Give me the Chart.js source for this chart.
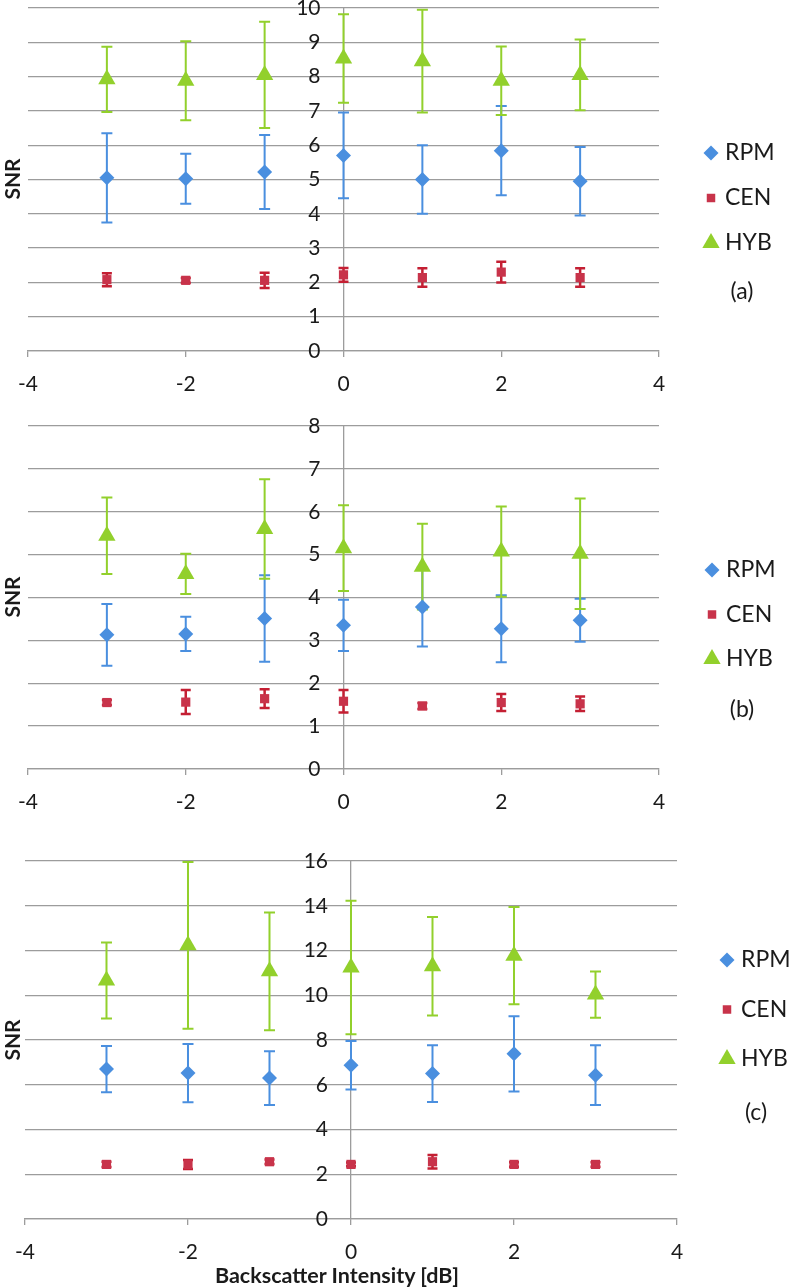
<!DOCTYPE html>
<html>
<head>
<meta charset="utf-8">
<title>SNR vs Backscatter Intensity</title>
<script src="https://cdn.jsdelivr.net/npm/chart.js@4.4.0/dist/chart.umd.min.js"></script>
<style>
  body { margin: 0; background: #fff; width: 793px; height: 1287px; position: relative; overflow: hidden; font-family: Lato, sans-serif; color: #1a1a1a; }
  canvas { position: absolute; left: 0; }
  .snr { position: absolute; left: 11px; font-weight: bold; font-size: 21px; transform: translate(-50%, -50%) rotate(-90deg); white-space: nowrap; }
  .xtitle { position: absolute; left: 337px; top: 1275px; transform: translate(-50%, -50%); font-weight: bold; font-size: 21.5px; white-space: nowrap; }
</style>
</head>
<body>
<canvas id="chartA" width="793" height="417" style="top:-12px"></canvas>
<canvas id="chartB" width="793" height="415" style="top:400px"></canvas>
<canvas id="chartC" width="793" height="467" style="top:820px"></canvas>
<div class="snr" style="top:179px">SNR</div>
<div class="snr" style="top:597px">SNR</div>
<div class="snr" style="top:1040px">SNR</div>
<div class="xtitle">Backscatter Intensity [dB]</div>

<script>
const xValues = [-3, -2, -1, 0, 1, 2, 3];
const seriesNames = ["RPM", "CEN", "HYB"];
const panelLabels = ["(a)", "(b)", "(c)"];

// panel (a)
const rpmA = [5.05, 5.02, 5.22, 5.7, 5.0, 5.84, 4.95];
const rpmAErr = [1.3, 0.73, 1.08, 1.25, 1.0, 1.3, 1.0];
const cenA = [2.08, 2.06, 2.06, 2.22, 2.14, 2.3, 2.14];
const cenAErr = [0.19, 0.07, 0.22, 0.2, 0.27, 0.3, 0.27];
const hybA = [7.92, 7.88, 8.05, 8.53, 8.45, 7.88, 8.05];
const hybAErr = [0.95, 1.15, 1.55, 1.29, 1.5, 1.0, 1.03];

// panel (b)
const rpmB = [3.13, 3.15, 3.51, 3.35, 3.78, 3.27, 3.47];
const rpmBErr = [0.72, 0.4, 1.01, 0.6, 0.92, 0.78, 0.5];
const cenB = [1.55, 1.56, 1.64, 1.58, 1.47, 1.55, 1.52];
const cenBErr = [0.06, 0.28, 0.22, 0.26, 0.07, 0.2, 0.17];
const hybB = [5.44, 4.55, 5.6, 5.15, 4.72, 5.07, 5.02];
const hybBErr = [0.89, 0.47, 1.16, 1.0, 1.0, 1.05, 1.29];

// panel (c)
const rpmC = [6.7, 6.52, 6.3, 6.87, 6.5, 7.38, 6.43];
const rpmCErr = [1.03, 1.3, 1.2, 1.08, 1.27, 1.68, 1.34];
const cenC = [2.44, 2.44, 2.56, 2.44, 2.56, 2.44, 2.44];
const cenCErr = [0.12, 0.2, 0.1, 0.08, 0.3, 0.1, 0.1];
const hybC = [10.66, 12.23, 11.07, 11.24, 11.3, 11.77, 10.03];
const hybCErr = [1.7, 3.73, 2.63, 2.98, 2.2, 2.17, 1.03];

const xTicks = { min: -4, max: 4, step: 2 };

const BLUE = "#4a8fdf";
const RED = "#c8334a";
const GREEN = "#92d02c";
const GRID = "#9c9c9c";
const TEXT = "#1a1a1a";

// draws the vertical error bars with caps, under the markers
const errorBars = {
  id: "errorBars",
  beforeDatasetsDraw(chart) {
    const { ctx, scales: { x, y } } = chart;
    chart.data.datasets.forEach(ds => {
      if (!ds.errors) return;
      ctx.save();
      ctx.strokeStyle = ds.errorColor;
      ctx.lineWidth = ds.errorWidth;
      const cap = ds.capHalf;
      ds.data.forEach((p, i) => {
        const px = x.getPixelForValue(p.x);
        const top = y.getPixelForValue(p.y + ds.errors[i]);
        const bot = y.getPixelForValue(p.y - ds.errors[i]);
        ctx.beginPath();
        ctx.moveTo(px, top);
        ctx.lineTo(px, bot);
        ctx.moveTo(px - cap, top);
        ctx.lineTo(px + cap, top);
        ctx.moveTo(px - cap, bot);
        ctx.lineTo(px + cap, bot);
        ctx.stroke();
      });
      ctx.restore();
    });
  }
};

// y axis crosses at x = 0; move its labels left of the line
const yLabelShift = {
  id: "yLabelShift",
  beforeDraw(chart, args, opts) {
    const items = chart.scales.y.getLabelItems();
    if (items._shifted) return;
    items.forEach(it => { it.options.translation[0] -= opts.shift; });
    items._shifted = true;
  }
};

// legend on the right plus the panel letter
const sideLegend = {
  id: "sideLegend",
  afterDraw(chart, args, opts) {
    const ctx = chart.ctx;
    ctx.save();
    ctx.textBaseline = "middle";
    ctx.font = "23px Lato";
    chart.data.datasets.forEach((ds, i) => {
      const cy = opts.y + i * opts.gap;
      ctx.fillStyle = ds.backgroundColor;
      ctx.strokeStyle = ds.backgroundColor;
      Chart.helpers.drawPoint(ctx, { pointStyle: ds.pointStyle, radius: ds.legendRadius, rotation: 0, borderWidth: 0 }, opts.x, cy);
      ctx.fillStyle = TEXT;
      ctx.textAlign = "left";
      ctx.fillText(ds.label, opts.x + 14, cy);
    });
    ctx.textAlign = "center";
    ctx.fillText(opts.tag, opts.tagX, opts.tagY);
    ctx.restore();
  }
};

function points(vals) {
  return xValues.map((x, i) => ({ x: x, y: vals[i] }));
}

function makePanel(id, rpm, rpmErr, cen, cenErr, hyb, hybErr, yMax, yStep, pad, legend) {
  new Chart(document.getElementById(id), {
    type: "scatter",
    data: {
      datasets: [
        { label: seriesNames[0], data: points(rpm), errors: rpmErr, errorColor: BLUE, errorWidth: 2, capHalf: 5.5,
          pointStyle: "rectRot", pointRadius: 7.5, legendRadius: 7.5, backgroundColor: BLUE, borderColor: BLUE, borderWidth: 0 },
        { label: seriesNames[1], data: points(cen), errors: cenErr, errorColor: "#c41f33", errorWidth: 2.5, capHalf: 5,
          pointStyle: "rect", pointRadius: 6.5, legendRadius: 6, backgroundColor: RED, borderColor: RED, borderWidth: 0 },
        { label: seriesNames[2], data: points(hyb), errors: hybErr, errorColor: GREEN, errorWidth: 2, capHalf: 5.5,
          pointStyle: "triangle", pointRadius: 10, legendRadius: 10, backgroundColor: GREEN, borderColor: GREEN, borderWidth: 0 }
      ]
    },
    options: {
      responsive: false,
      animation: false,
      devicePixelRatio: 1,
      layout: { padding: pad },
      plugins: {
        legend: { display: false },
        tooltip: { enabled: false },
        sideLegend: legend,
        yLabelShift: { shift: 23 }
      },
      scales: {
        x: {
          type: "linear",
          position: "bottom",
          min: xTicks.min,
          max: xTicks.max,
          ticks: { stepSize: xTicks.step, color: TEXT, font: { family: "Lato", size: 21 }, padding: 15 },
          grid: { drawOnChartArea: false, drawTicks: true, tickLength: 6, color: GRID, lineWidth: 1.3 },
          border: { color: GRID, width: 1.3 },
          afterFit(s) { s.height = 40; }
        },
        y: {
          position: { x: 0 },
          min: 0,
          max: yMax,
          ticks: { stepSize: yStep, color: TEXT, font: { family: "Lato", size: 21 } },
          grid: { color: GRID, lineWidth: 1.3, drawTicks: false },
          border: { color: GRID, width: 1.3 }
        }
      }
    },
    plugins: [errorBars, yLabelShift, sideLegend]
  });
}

makePanel("chartA", rpmA, rpmAErr, cenA, cenAErr, hybA, hybAErr, 10, 1,
  { left: 28, right: 134, top: 20, bottom: 14 },
  { x: 711, y: 165, gap: 45, tag: panelLabels[0], tagX: 742, tagY: 304 });

makePanel("chartB", rpmB, rpmBErr, cenB, cenBErr, hybB, hybBErr, 8, 1,
  { left: 28, right: 134, top: 26, bottom: 6 },
  { x: 712, y: 170, gap: 44.5, tag: panelLabels[1], tagX: 742, tagY: 310 });

makePanel("chartC", rpmC, rpmCErr, cenC, cenCErr, hybC, hybCErr, 16, 2,
  { left: 23, right: 116, top: 41, bottom: 28 },
  { x: 727, y: 140, gap: 49.5, tag: panelLabels[2], tagX: 756, tagY: 293 });
</script>
</body>
</html>
